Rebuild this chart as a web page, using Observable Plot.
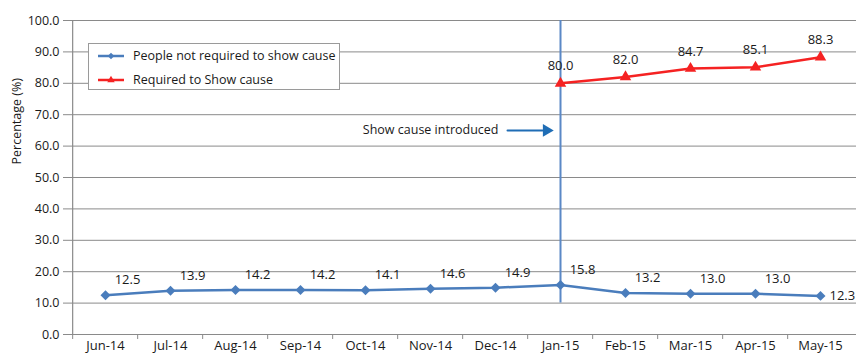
<!DOCTYPE html>
<html>
<head>
<meta charset="utf-8">
<script src="https://cdn.jsdelivr.net/npm/d3@7"></script>
<script src="https://cdn.jsdelivr.net/npm/@observablehq/plot@0.6"></script>
<style>
  html, body { margin: 0; padding: 0; background: #fff; }
  #chart { position: relative; width: 856px; height: 359px; font-family: "Open Sans", sans-serif; }
  #chart svg { display: block; }
  .legend {
    position: absolute; left: 88px; top: 43px; width: 252px; height: 47px;
    border: 1px solid #9a9a9a; background: #fff; box-sizing: border-box;
    font-size: 12.5px; color: #1a1a1a;
  }
  .legend .row { position: absolute; left: 8px; display: flex; align-items: center; }
  .legend svg { margin-right: 8px; }
</style>
</head>
<body>
<div id="chart"></div>
<script>
// Monthly categories
const months = ["Jun-14", "Jul-14", "Aug-14", "Sep-14", "Oct-14", "Nov-14",
                "Dec-14", "Jan-15", "Feb-15", "Mar-15", "Apr-15", "May-15"];

// People not required to show cause (%)
const notRequired = [12.5, 13.9, 14.2, 14.2, 14.1, 14.6, 14.9, 15.8, 13.2, 13.0, 13.0, 12.3];

// Required to show cause (%), from Jan-15 onwards
const requiredMonths = ["Jan-15", "Feb-15", "Mar-15", "Apr-15", "May-15"];
const required = [80.0, 82.0, 84.7, 85.1, 88.3];

// Y axis ticks
const yTicks = [0, 10, 20, 30, 40, 50, 60, 70, 80, 90, 100];

// Policy change marker
const introMonth = "Jan-15";
const prevMonth = "Dec-14";
const introLabel = "Show cause introduced";
const introLevel = 65;

const seriesNames = ["People not required to show cause", "Required to Show cause"];
const blue = "#4a7dbc";
const red = "#f52222";
const arrowBlue = "#1f6db5";

const blueData = months.map((m, i) => ({month: m, value: notRequired[i]}));
const redData = requiredMonths.map((m, i) => ({month: m, value: required[i]}));

const W = 856, H = 359, mL = 68, mR = 0;
const step = (W - mL - mR) / months.length;
const fmt = d3.format(".1f");

const chart = Plot.plot({
  width: W,
  height: H,
  marginLeft: mL,
  marginRight: mR,
  marginTop: 20,
  marginBottom: 25,
  style: {fontFamily: "'Open Sans', sans-serif", fontSize: "12px", color: "#1a1a1a", background: "#fff"},
  x: {type: "point", domain: months, padding: 0.5, label: null},
  y: {domain: [0, 100], label: null},
  marks: [
    // horizontal gridlines
    Plot.ruleY(yTicks.slice(1), {stroke: "#8a8a8a", strokeWidth: 1}),
    // axis lines
    Plot.ruleY([0], {stroke: "#8a8a8a", strokeWidth: 1.2}),
    Plot.ruleX([months[0]], {dx: -step / 2, y1: 0, y2: 100, stroke: "#8a8a8a", strokeWidth: 1.2}),
    // category boundary ticks below the x axis
    Plot.ruleX(months, {x: d => d, dx: -step / 2, y1: 0, y2: 0, insetBottom: -5, stroke: "#8a8a8a"}),
    Plot.axisX({ticks: months, tickSize: 0, tickPadding: 6, fontSize: 13}),
    Plot.axisY({ticks: yTicks, tickFormat: fmt, tickSize: 5, tickPadding: 4, fontSize: 12.5, stroke: "#8a8a8a"}),
    Plot.text(["Percentage (%)"], {frameAnchor: "left", dx: -52, dy: -13, rotate: -90, fontSize: 12.5}),

    // series lines
    Plot.line(redData, {x: "month", y: "value", stroke: red, strokeWidth: 2.5}),
    Plot.line(blueData, {x: "month", y: "value", stroke: blue, strokeWidth: 2.5}),

    // vertical marker for the policy change
    Plot.ruleX([introMonth], {x: d => d, y1: 10, y2: 100, stroke: "#5a88c6", strokeWidth: 2}),

    // markers
    Plot.dot(redData, {x: "month", y: "value", symbol: "triangle2", r: 5.5, fill: red}),
    Plot.dot(blueData, {x: "month", y: "value", symbol: "diamond2", r: 4.5, fill: blue}),

    // value labels
    Plot.text(redData, {x: "month", y: "value", text: d => fmt(d.value), dy: -17, fontSize: 13}),
    Plot.text(blueData.slice(0, -1), {x: "month", y: "value", text: d => fmt(d.value), dx: 22, dy: -15, fontSize: 13}),
    Plot.text(blueData.slice(-1), {x: "month", y: "value", text: d => fmt(d.value), dx: 9, textAnchor: "start", fontSize: 13}),

    // annotation with arrow
    Plot.text([introLabel], {x: () => prevMonth, y: () => introLevel, text: d => d, dx: 3, textAnchor: "end", fontSize: 12.5}),
    Plot.arrow([0], {x1: () => prevMonth, x2: () => introMonth, y1: () => introLevel, y2: () => introLevel,
      insetStart: 12, insetEnd: 18, headLength: 0, stroke: arrowBlue, strokeWidth: 2}),
    Plot.dot([0], {x: () => introMonth, y: () => introLevel, dx: -14, symbol: "triangle2", rotate: 90, r: 6, fill: arrowBlue})
  ]
});

const root = document.getElementById("chart");
root.appendChild(chart);

// Legend
const legend = document.createElement("div");
legend.className = "legend";
const swatch = (color, shape) => {
  const s = d3.create("svg").attr("width", 28).attr("height", 10);
  s.append("line").attr("x1", 1).attr("x2", 27).attr("y1", 5).attr("y2", 5)
    .attr("stroke", color).attr("stroke-width", 2.5);
  s.append("path").attr("transform", "translate(14,5)")
    .attr("d", d3.symbol(shape, shape === d3.symbolTriangle2 ? 40 : 28)())
    .attr("fill", color);
  return s.node();
};
[[seriesNames[0], blue, d3.symbolDiamond2, 3], [seriesNames[1], red, d3.symbolTriangle2, 27]].forEach(([name, color, shape, top]) => {
  const row = document.createElement("div");
  row.className = "row";
  row.style.top = top + "px";
  row.appendChild(swatch(color, shape));
  const t = document.createElement("span");
  t.textContent = name;
  row.appendChild(t);
  legend.appendChild(row);
});
root.appendChild(legend);
</script>
</body>
</html>
